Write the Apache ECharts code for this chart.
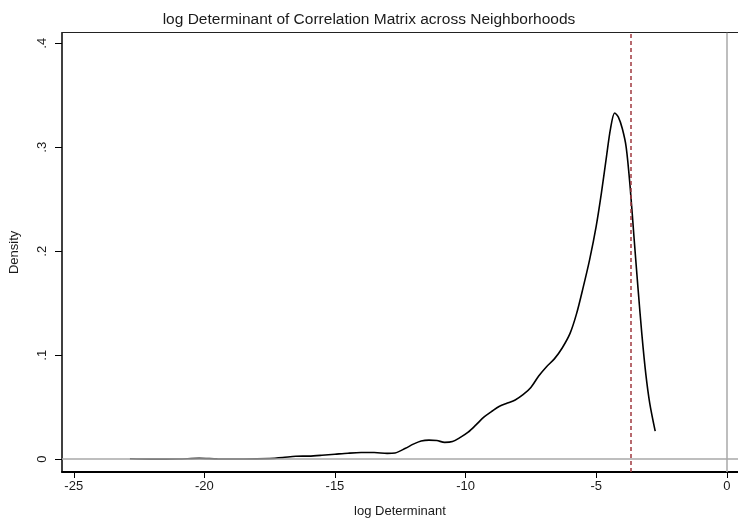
<!DOCTYPE html>
<html>
<head>
<meta charset="utf-8">
<script src="https://cdn.jsdelivr.net/npm/echarts@6/dist/echarts.min.js"></script>
<style>
  html, body { margin: 0; padding: 0; background: #fff; }
  #chart { width: 738px; height: 523px; }
</style>
</head>
<body>
<div id="chart"></div>
<script>
// Kernel density estimate of log determinant values
const logDet = [-22.85, -22, -21, -20.2, -19.5, -18.5, -17.5, -17, -16.5, -16, -15.5, -15, -14.5, -14, -13.5, -13, -12.7, -12.3, -12, -11.7, -11.4, -11.1, -10.8, -10.5, -10.2, -9.9, -9.6, -9.3, -9, -8.7, -8.4, -8.1, -7.8, -7.5, -7.2, -6.9, -6.6, -6.3, -6.0, -5.75, -5.5, -5.25, -5.0, -4.8, -4.6, -4.45, -4.29, -4.15, -4.0, -3.85, -3.7, -3.55, -3.4, -3.25, -3.1, -2.95, -2.74];
const density = [0.0004, 0.0001, 0.0002, 0.0008, 0.0003, 0.0002, 0.0006, 0.0015, 0.0028, 0.003, 0.0038, 0.0048, 0.0058, 0.0064, 0.0064, 0.0056, 0.006, 0.0105, 0.0145, 0.0175, 0.0184, 0.018, 0.0162, 0.017, 0.021, 0.026, 0.033, 0.0405, 0.046, 0.051, 0.054, 0.057, 0.062, 0.069, 0.080, 0.089, 0.0965, 0.107, 0.121, 0.140, 0.165, 0.192, 0.224, 0.256, 0.292, 0.318, 0.333, 0.329, 0.318, 0.300, 0.262, 0.213, 0.165, 0.120, 0.082, 0.054, 0.027];

// Reference value marked with a dashed line
const refLogDet = -3.68;

// Tick labels
const xTicks = [-25, -20, -15, -10, -5, 0];
const yTicks = [0, 0.1, 0.2, 0.3, 0.4];

const font = '"Liberation Sans", Arial, sans-serif';

const chart = echarts.init(document.getElementById('chart'), null, { renderer: 'canvas' });

chart.setOption({
  animation: false,
  backgroundColor: '#ffffff',
  title: {
    text: 'log Determinant of Correlation Matrix across Neighborhoods',
    left: 'center',
    top: 7,
    textStyle: { fontFamily: font, fontSize: 15.5, fontWeight: 'normal', color: '#1a1a1a' }
  },
  grid: { left: 54, right: 0, top: 32.7, bottom: 43.5, containLabel: false },
  xAxis: [{
    type: 'value',
    min: -25.45,
    max: 0.43,
    name: 'log Determinant',
    nameLocation: 'middle',
    nameGap: 33,
    nameTextStyle: { fontFamily: font, fontSize: 13, color: '#1a1a1a' },
    axisLine: { show: true, onZero: false, lineStyle: { color: '#000', width: 2 } },
    axisTick: { show: true, length: 6, customValues: xTicks, lineStyle: { color: '#000', width: 1 } },
    axisLabel: { customValues: xTicks, margin: 8, fontFamily: font, fontSize: 13, color: '#1a1a1a' },
    splitLine: { show: false }
  }, {
    type: 'value',
    position: 'top',
    min: -25.45,
    max: 0.43,
    axisLine: { show: true, onZero: false, lineStyle: { color: '#222', width: 1 } },
    axisTick: { show: false },
    axisLabel: { show: false },
    splitLine: { show: false }
  }],
  yAxis: {
    type: 'value',
    min: -0.0123,
    max: 0.4102,
    name: 'Density',
    nameLocation: 'middle',
    nameGap: 41,
    nameTextStyle: { fontFamily: font, fontSize: 13, color: '#1a1a1a' },
    axisLine: { show: true, onZero: false, lineStyle: { color: '#000', width: 1.5 } },
    axisTick: { show: true, length: 7, customValues: yTicks, lineStyle: { color: '#000', width: 1 } },
    axisLabel: {
      customValues: yTicks,
      rotate: 90,
      margin: 13,
      fontFamily: font,
      fontSize: 13,
      color: '#1a1a1a',
      formatter: v => (Math.abs(v) < 1e-9 ? '0' : '.' + Math.round(v * 10))
    },
    splitLine: { show: false }
  },
  series: [{
    type: 'line',
    xAxisIndex: 0,
    data: logDet.map((x, i) => [x, density[i]]),
    showSymbol: false,
    smooth: 0.3,
    lineStyle: { color: '#000', width: 1.6 },
    z: 3,
    markLine: {
      silent: true,
      symbol: ['none', 'none'],
      label: { show: false },
      animation: false,
      data: [
        { yAxis: 0, lineStyle: { color: '#a8a8a8', width: 1.5, type: 'solid' } },
        { xAxis: 0, lineStyle: { color: '#a8a8a8', width: 1.5, type: 'solid' } },
        { xAxis: refLogDet, lineStyle: { color: '#a0393f', width: 1.5, type: [4, 3] } }
      ]
    }
  }]
});
</script>
</body>
</html>
